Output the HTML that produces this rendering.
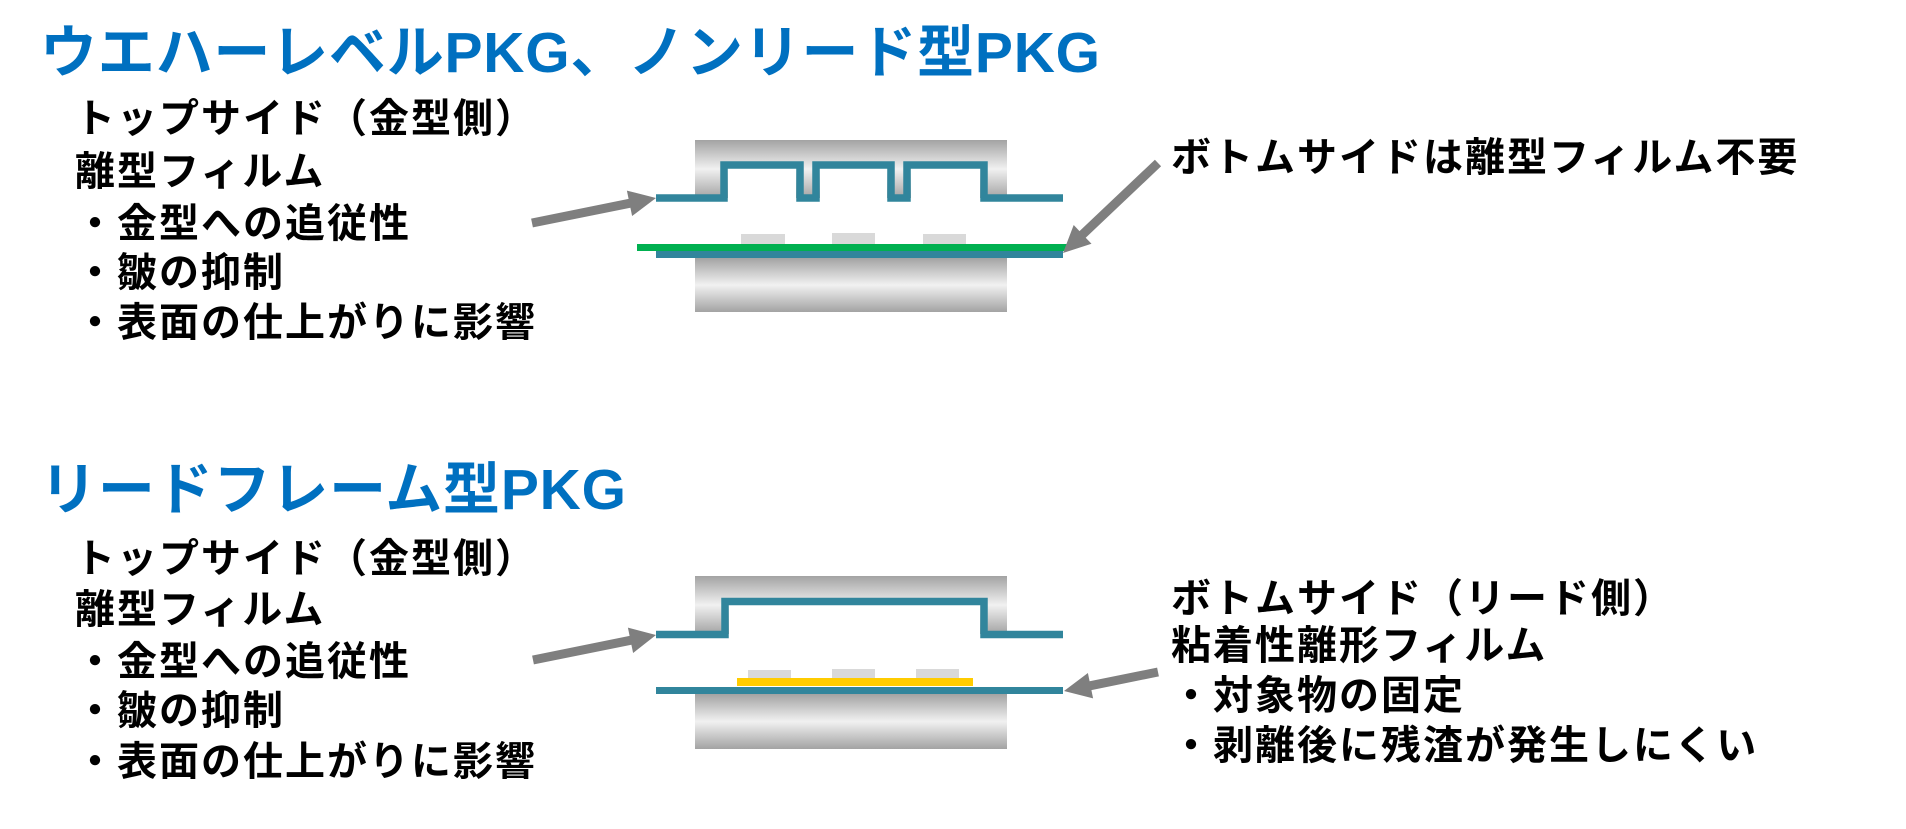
<!DOCTYPE html>
<html>
<head>
<meta charset="utf-8">
<style>
  html,body{margin:0;padding:0;background:#fff;}
  body{width:1906px;height:829px;overflow:hidden;}
  svg{display:block;}
  .title{font-family:"Liberation Sans","Noto Sans CJK JP",sans-serif;font-weight:700;font-size:57px;fill:#0070C0;}
  .body{font-family:"Liberation Sans","Noto Sans CJK JP",sans-serif;font-weight:700;font-size:40px;fill:#000;letter-spacing:2px;}
</style>
</head>
<body>
<svg width="1906" height="829" viewBox="0 0 1906 829" xmlns="http://www.w3.org/2000/svg">
  <defs>
    <linearGradient id="mold" x1="0" y1="0" x2="0" y2="1">
      <stop offset="0" stop-color="#a3a3a3"/>
      <stop offset="0.5" stop-color="#f1f1f1"/>
      <stop offset="1" stop-color="#a3a3a3"/>
    </linearGradient>
  </defs>

  <!-- ===== Section 1 ===== -->
  <text class="title" x="40" y="72" textLength="1060" lengthAdjust="spacing">ウエハーレベルPKG、ノンリード型PKG</text>

  <text class="body" x="75" y="132">トップサイド（金型側）</text>
  <text class="body" x="75" y="185">離型フィルム</text>
  <text class="body" x="75" y="237">・金型への追従性</text>
  <text class="body" x="75" y="286">・皺の抑制</text>
  <text class="body" x="75" y="336">・表面の仕上がりに影響</text>

  <text class="body" x="1171" y="171">ボトムサイドは離型フィルム不要</text>

  <!-- top mold 1 -->
  <rect x="695" y="140" width="312" height="58" fill="url(#mold)"/>
  <rect x="728" y="168" width="68" height="34" fill="#fff"/>
  <rect x="820" y="168" width="67" height="34" fill="#fff"/>
  <rect x="911" y="168" width="69" height="34" fill="#fff"/>
  <path d="M656,198 H724 V165 H800 V198 H816 V165 H891 V198 H907 V165 H984 V198 H1063" fill="none" stroke="#31859C" stroke-width="7.5" stroke-linejoin="miter" stroke-linecap="butt"/>

  <!-- chips 1 -->
  <rect x="741" y="234" width="44" height="10" fill="#d9d9d9"/>
  <rect x="832" y="233" width="43" height="11" fill="#d9d9d9"/>
  <rect x="923" y="234" width="43" height="10" fill="#d9d9d9"/>
  <!-- green substrate -->
  <rect x="637" y="244" width="430" height="7" fill="#00B050"/>
  <!-- bottom teal -->
  <rect x="656" y="251" width="407" height="7" fill="#31859C"/>
  <!-- bottom mold 1 -->
  <rect x="695" y="258" width="312" height="54" fill="url(#mold)"/>

  <!-- arrows section 1 -->
  <polygon points="532.9,227.4 630.4,207.7 632.1,216.0 656,198 626.9,190.6 628.6,198.9 531.1,218.6" fill="#7f7f7f"/>
  <polygon points="1161.1,166.3 1085.7,237.7 1091.5,243.8 1063,253 1073.7,225.0 1079.5,231.1 1154.9,159.7" fill="#7f7f7f"/>

  <!-- ===== Section 2 ===== -->
  <text class="title" x="40" y="509" textLength="586" lengthAdjust="spacing">リードフレーム型PKG</text>

  <text class="body" x="75" y="572">トップサイド（金型側）</text>
  <text class="body" x="75" y="623">離型フィルム</text>
  <text class="body" x="75" y="675">・金型への追従性</text>
  <text class="body" x="75" y="724">・皺の抑制</text>
  <text class="body" x="75" y="775">・表面の仕上がりに影響</text>

  <text class="body" x="1171" y="612">ボトムサイド（リード側）</text>
  <text class="body" x="1171" y="659">粘着性離形フィルム</text>
  <text class="body" x="1171" y="709">・対象物の固定</text>
  <text class="body" x="1171" y="759">・剥離後に残渣が発生しにくい</text>

  <!-- top mold 2 -->
  <rect x="695" y="576" width="312" height="58" fill="url(#mold)"/>
  <rect x="729" y="605" width="251" height="33" fill="#fff"/>
  <path d="M656,634.5 H725 V601.5 H984 V634.5 H1063" fill="none" stroke="#31859C" stroke-width="7.5" stroke-linejoin="miter" stroke-linecap="butt"/>

  <!-- chips 2 -->
  <rect x="748" y="670" width="43" height="8" fill="#d9d9d9"/>
  <rect x="832" y="669" width="43" height="9" fill="#d9d9d9"/>
  <rect x="916" y="669" width="43" height="9" fill="#d9d9d9"/>
  <!-- yellow lead frame -->
  <rect x="737" y="678" width="236" height="8" fill="#FFCC00"/>
  <!-- bottom teal -->
  <rect x="656" y="687" width="407" height="7" fill="#31859C"/>
  <!-- bottom mold 2 -->
  <rect x="695" y="694" width="312" height="55" fill="url(#mold)"/>

  <!-- arrows section 2 -->
  <g transform="translate(1,437)">
    <polygon points="532.9,227.4 630.4,207.7 632.1,216.0 655,198 626.9,190.6 628.6,198.9 531.1,218.6" fill="#7f7f7f"/>
  </g>
  <polygon points="1158.9,676.4 1091.4,690.1 1093.1,698.4 1064,691 1087.9,673.0 1089.6,681.3 1157.1,667.6" fill="#7f7f7f"/>
</svg>
</body>
</html>
